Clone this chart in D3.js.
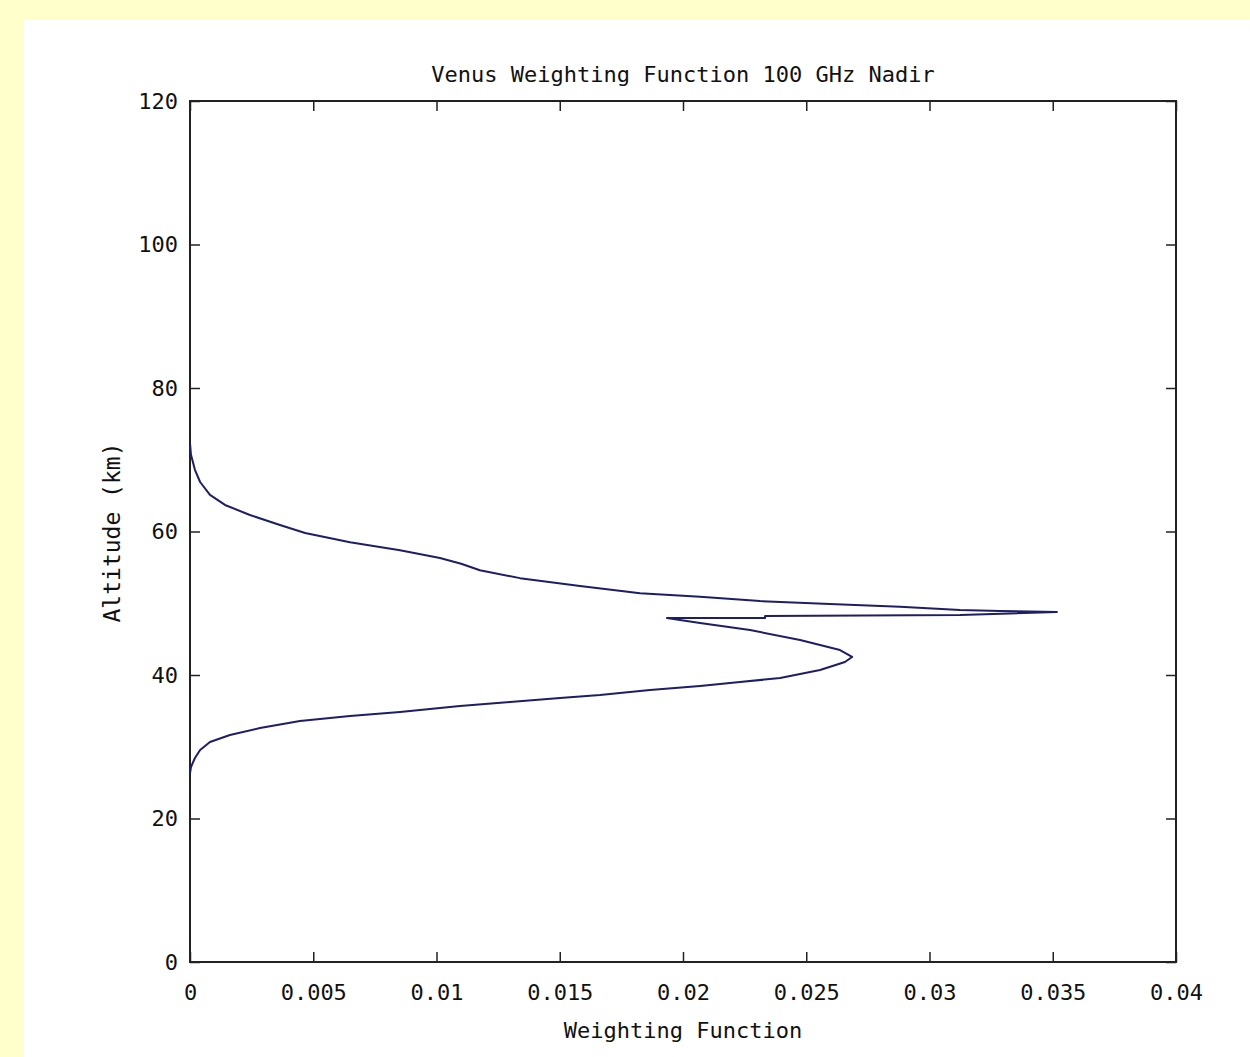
<!DOCTYPE html>
<html>
<head>
<meta charset="utf-8">
<script src="https://cdn.jsdelivr.net/npm/d3@7"></script>
<style>
  body { margin: 0; background: #ffffcc; }
  svg { display: block; }
  text { font-family: "DejaVu Sans Mono", "Liberation Mono", monospace; fill: #111; }
</style>
</head>
<body>
<svg id="chart"></svg>
<script>
// curve, top branch first, then back down
const weight = [0, 0.00004, 0.0002, 0.00041, 0.00081, 0.00142, 0.00243, 0.00365, 0.00467,
  0.00649, 0.00852, 0.01014, 0.01100, 0.01176, 0.01339, 0.01582, 0.01826, 0.02069, 0.02312,
  0.02596, 0.0288, 0.03124, 0.03286, 0.03517,
  0.03124, 0.02333, 0.02333, 0.01935, 0.01988, 0.02069, 0.02272, 0.02475, 0.02637,
  0.02686, 0.02657, 0.02556, 0.02394, 0.02231, 0.02069, 0.01866, 0.01663, 0.01501,
  0.01298, 0.01095, 0.00852, 0.00649, 0.00446, 0.00284, 0.00162, 0.00081, 0.00041,
  0.0002, 0.00004, 0];
const altitude = [72.3, 70.7, 68.6, 66.9, 65.1, 63.7, 62.3, 60.9, 59.8,
  58.5, 57.4, 56.3, 55.5, 54.6, 53.5, 52.4, 51.4, 50.9, 50.3,
  49.9, 49.5, 49.06, 48.92, 48.78,
  48.36, 48.22, 47.94, 47.94, 47.67, 47.25, 46.27, 44.88, 43.48,
  42.51, 41.81, 40.7, 39.58, 39.02, 38.47, 37.91, 37.21, 36.79,
  36.24, 35.68, 34.84, 34.29, 33.59, 32.61, 31.64, 30.66, 29.55,
  28.43, 27.18, 26.3];

const xTicks = [0, 0.005, 0.01, 0.015, 0.02, 0.025, 0.03, 0.035, 0.04];
const xTickLabels = ["0", "0.005", "0.01", "0.015", "0.02", "0.025", "0.03", "0.035", "0.04"];
const yTicks = [0, 20, 40, 60, 80, 100, 120];

const width = 1250, height = 1057;
const margin = {left: 190, top: 101, right: 74, bottom: 95};
const INNER_WIDTH = width - margin.left - margin.right;
const INNER_HEIGHT = height - margin.top - margin.bottom;
const FONT = "22px";

let svg = d3.select("#chart")
    .attr("width", width)
    .attr("height", height);

// white figure panel on the yellow page
svg.append("rect")
    .attr("x", 24).attr("y", 20)
    .attr("width", width - 24).attr("height", height - 20)
    .style("fill", "#ffffff");

let g = svg.append("g")
    .attr("transform", `translate(${margin.left},${margin.top})`);

let x = d3.scaleLinear().domain([0, 0.04]).range([0, INNER_WIDTH]);
let y = d3.scaleLinear().domain([0, 120]).range([INNER_HEIGHT, 0]);

// ticks point inward on all four sides, labels only bottom and left
let xBottom = g.append("g")
    .attr("transform", `translate(0,${INNER_HEIGHT})`)
    .call(d3.axisBottom(x).tickValues(xTicks).tickSize(-10).tickPadding(22)
        .tickFormat((d, i) => xTickLabels[i]));
let xTop = g.append("g")
    .call(d3.axisTop(x).tickValues(xTicks).tickSize(-10).tickFormat(""));
let yLeft = g.append("g")
    .call(d3.axisLeft(y).tickValues(yTicks).tickSize(-10).tickPadding(22));
let yRight = g.append("g")
    .attr("transform", `translate(${INNER_WIDTH},0)`)
    .call(d3.axisRight(y).tickValues(yTicks).tickSize(-10).tickFormat(""));

[xBottom, xTop, yLeft, yRight].forEach(a => {
    a.select(".domain").remove();
    a.selectAll("line").style("stroke", "#222").style("stroke-width", 1.5);
    a.selectAll("text").style("font-size", FONT).style("fill", "#111")
        .style("font-family", '"DejaVu Sans Mono", monospace');
});
yLeft.selectAll("text").attr("dx", 10);

// box
g.append("rect")
    .attr("width", INNER_WIDTH).attr("height", INNER_HEIGHT)
    .style("fill", "none").style("stroke", "#222").style("stroke-width", 2);

// curve
let line = d3.line()
    .x((d, i) => x(weight[i]))
    .y((d, i) => y(altitude[i]));

g.append("path")
    .datum(weight)
    .attr("d", line)
    .style("fill", "none")
    .style("stroke", "#1e1e66")
    .style("stroke-width", 2)
    .style("stroke-linejoin", "round");

// title
g.append("text")
    .attr("x", INNER_WIDTH / 2).attr("y", -19)
    .style("text-anchor", "middle")
    .style("font-size", FONT)
    .text("Venus Weighting Function 100 GHz Nadir");

// x label
g.append("text")
    .attr("x", INNER_WIDTH / 2).attr("y", INNER_HEIGHT + 76)
    .style("text-anchor", "middle")
    .style("font-size", FONT)
    .text("Weighting Function");

// y label
g.append("text")
    .attr("transform", `translate(${-70},${INNER_HEIGHT / 2 + 1}) rotate(-90)`)
    .style("text-anchor", "middle")
    .style("font-size", "23px")
    .text("Altitude (km)");
</script>
</body>
</html>
